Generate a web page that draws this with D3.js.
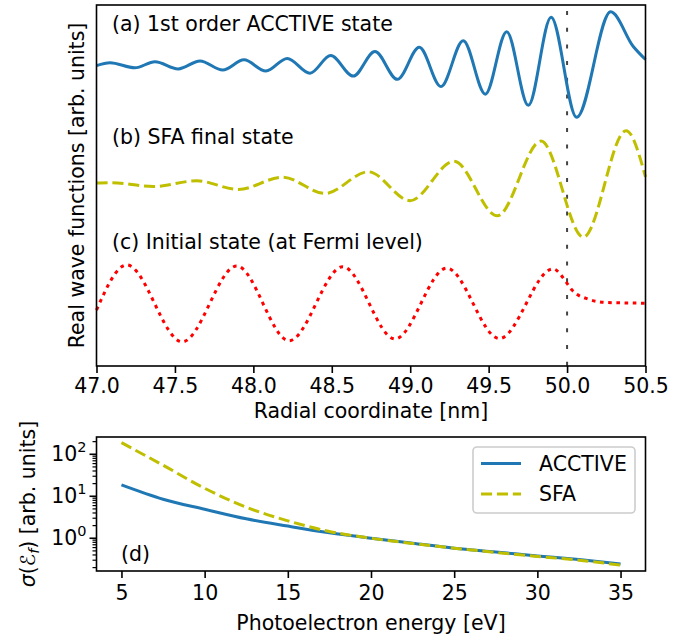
<!DOCTYPE html>
<html lang="en">
<head>
    <meta charset="utf-8">
    <script type="text/javascript" src="https://cdn.jsdelivr.net/npm/d3@7/dist/d3.min.js"></script>
    <style>
        body { margin: 0; background: #fff; }
        text { font-family: "DejaVu Sans", sans-serif; fill: #000; }
    </style>
</head>
<body>
<script type="text/javascript">

    // wave functions: [radial coordinate nm, value arb. units]
    let acctive = [
        [47.000, 8.32], [47.086, 8.40], [47.245, 8.26], [47.373, 8.43], [47.521, 8.23],
        [47.660, 8.45], [47.805, 8.20], [47.940, 8.48], [48.080, 8.17], [48.216, 8.52],
        [48.361, 8.11], [48.493, 8.60], [48.637, 8.03], [48.775, 8.71], [48.918, 7.94],
        [49.058, 8.83], [49.196, 7.74], [49.338, 9.01], [49.479, 7.53], [49.615, 9.26],
        [49.753, 7.22], [49.898, 9.66], [50.061, 6.89], [50.278, 9.81], [50.422, 8.85],
        [50.500, 8.49]
    ];
    let sfaFinal = [
        [47.000, 5.07], [47.090, 5.08], [47.362, 4.97], [47.639, 5.13], [47.904, 4.89],
        [48.187, 5.23], [48.457, 4.78], [48.733, 5.38], [48.999, 4.58], [49.279, 5.67],
        [49.555, 4.16], [49.834, 6.23], [50.104, 3.57], [50.376, 6.52], [50.500, 5.24]
    ];
    let initial = [
        [47.000, 1.55], [47.193, 2.80], [47.547, 0.67], [47.894, 2.77], [48.228, 0.70],
        [48.570, 2.75], [48.903, 0.75], [49.233, 2.71], [49.568, 0.76], [49.910, 2.69],
        [50.000, 2.29], [50.030, 2.11], [50.136, 1.85], [50.253, 1.76], [50.500, 1.74]
    ];
    let surface = 50.0;
    let radialTicks = [47.0, 47.5, 48.0, 48.5, 49.0, 49.5, 50.0, 50.5];

    // cross sections
    let energies = [5, 7.5, 10, 12.5, 15, 17.5, 20, 22.5, 25, 27.5, 30, 32.5, 35];
    let sigmaAcctive = [18.6, 8.5, 4.9, 2.9, 1.95, 1.35, 1.0, 0.76, 0.58, 0.47, 0.38, 0.31, 0.245];
    let sigmaSfa = [189, 55, 15.5, 5.5, 2.6, 1.45, 1.0, 0.75, 0.58, 0.46, 0.37, 0.30, 0.23];
    let energyTicks = [5, 10, 15, 20, 25, 30, 35];
    let logTicks = [1, 10, 100];
    let logTickExp = ["0", "1", "2"];

    let w = 688;
    let h = 638;
    let fs = 20.5;

    let svg = d3.select("body")
        .append("svg")
        .attr("width", w)
        .attr("height", h);

    // ---------- top panel ----------
    let x1 = d3.scaleLinear().domain([47.0, 50.5]).range([96.5, 645.5]);
    let y1 = d3.scaleLinear().domain([0, 10]).range([366, 5]);

    let wave = d3.line()
        .x(d => x1(d[0]))
        .y(d => y1(d[1]))
        .curve(d3.curveMonotoneX);

    svg.append("line")
        .attr("x1", x1(surface)).attr("x2", x1(surface))
        .attr("y1", y1.range()[1]).attr("y2", y1.range()[0])
        .attr("stroke", "#444")
        .attr("stroke-width", 2)
        .attr("stroke-dasharray", "4,12.7")
        .attr("stroke-dashoffset", -6);

    svg.append("path").datum(acctive)
        .attr("d", wave)
        .attr("fill", "none")
        .attr("stroke", "#1f77b4")
        .attr("stroke-width", 3);

    svg.append("path").datum(sfaFinal)
        .attr("d", wave)
        .attr("fill", "none")
        .attr("stroke", "#bfbf00")
        .attr("stroke-width", 3)
        .attr("stroke-dasharray", "11.1,4.8");

    svg.append("path").datum(initial)
        .attr("d", wave)
        .attr("fill", "none")
        .attr("stroke", "#ff0000")
        .attr("stroke-width", 3)
        .attr("stroke-dasharray", "3.6,4.6");

    svg.append("text").attr("x", 112).attr("y", 30.5).attr("font-size", fs)
        .text("(a) 1st order ACCTIVE state");
    svg.append("text").attr("x", 112).attr("y", 143.5).attr("font-size", fs)
        .text("(b) SFA final state");
    svg.append("text").attr("x", 112).attr("y", 249).attr("font-size", fs)
        .text("(c) Initial state (at Fermi level)");

    let ax1 = svg.append("g")
        .attr("transform", "translate(0," + y1.range()[0] + ")")
        .call(d3.axisBottom(x1).tickValues(radialTicks).tickFormat(d3.format(".1f"))
            .tickSize(7).tickPadding(5).tickSizeOuter(0));
    ax1.select(".domain").remove();
    ax1.selectAll(".tick line").attr("stroke-width", 1.6);
    ax1.selectAll(".tick text").attr("font-size", fs).attr("font-family", "DejaVu Sans");

    svg.append("rect")
        .attr("x", x1.range()[0]).attr("y", y1.range()[1])
        .attr("width", x1.range()[1] - x1.range()[0])
        .attr("height", y1.range()[0] - y1.range()[1])
        .attr("fill", "none").attr("stroke", "#000").attr("stroke-width", 1.6);

    svg.append("text")
        .attr("x", (x1.range()[0] + x1.range()[1]) / 2).attr("y", 418)
        .attr("text-anchor", "middle").attr("font-size", fs)
        .text("Radial coordinate [nm]");

    svg.append("text")
        .attr("transform", "translate(84," + (y1.range()[0] + y1.range()[1]) / 2 + ") rotate(-90)")
        .attr("text-anchor", "middle").attr("font-size", fs)
        .text("Real wave functions [arb. units]");

    // ---------- bottom panel ----------
    let x2 = d3.scaleLinear().domain([3.5, 36.5]).range([96.5, 645.5]);
    let y2 = d3.scaleLog().domain([0.166, 258]).range([571, 437]);

    let sigmaLine = d3.line()
        .x(d => x2(d[0]))
        .y(d => y2(d[1]))
        .curve(d3.curveMonotoneX);

    svg.append("path").datum(energies.map((e, i) => [e, sigmaAcctive[i]]))
        .attr("d", sigmaLine)
        .attr("fill", "none")
        .attr("stroke", "#1f77b4")
        .attr("stroke-width", 3);

    svg.append("path").datum(energies.map((e, i) => [e, sigmaSfa[i]]))
        .attr("d", sigmaLine)
        .attr("fill", "none")
        .attr("stroke", "#bfbf00")
        .attr("stroke-width", 3)
        .attr("stroke-dasharray", "11.1,4.8");

    let ax2 = svg.append("g")
        .attr("transform", "translate(0," + y2.range()[0] + ")")
        .call(d3.axisBottom(x2).tickValues(energyTicks).tickFormat(d3.format("d"))
            .tickSize(7).tickPadding(7).tickSizeOuter(0));
    ax2.select(".domain").remove();
    ax2.selectAll(".tick line").attr("stroke-width", 1.6);
    ax2.selectAll(".tick text").attr("font-size", fs).attr("font-family", "DejaVu Sans");

    // minor log ticks
    let minor = [];
    [0.1, 1, 10, 100].forEach(p => d3.range(2, 10).forEach(m => {
        let v = p * m;
        if (v >= y2.domain()[0] && v <= y2.domain()[1]) minor.push(v);
    }));
    svg.append("g").selectAll("line").data(minor).enter().append("line")
        .attr("x1", x2.range()[0] - 4).attr("x2", x2.range()[0])
        .attr("y1", d => y2(d)).attr("y2", d => y2(d))
        .attr("stroke", "#000").attr("stroke-width", 1.2);

    let maj = svg.append("g").selectAll("g").data(logTicks).enter().append("g")
        .attr("transform", d => "translate(0," + y2(d) + ")");
    maj.append("line")
        .attr("x1", x2.range()[0] - 7).attr("x2", x2.range()[0])
        .attr("stroke", "#000").attr("stroke-width", 1.6);
    let lab = maj.append("text")
        .attr("x", x2.range()[0] - 10).attr("y", 7)
        .attr("text-anchor", "end").attr("font-size", fs);
    lab.append("tspan").text("10");
    lab.append("tspan").attr("dy", -9).attr("font-size", 14.5).text((d, i) => logTickExp[i]);

    svg.append("rect")
        .attr("x", x2.range()[0]).attr("y", y2.range()[1])
        .attr("width", x2.range()[1] - x2.range()[0])
        .attr("height", y2.range()[0] - y2.range()[1])
        .attr("fill", "none").attr("stroke", "#000").attr("stroke-width", 1.6);

    svg.append("text").attr("x", 121).attr("y", 561).attr("font-size", fs).text("(d)");

    svg.append("text")
        .attr("x", (x2.range()[0] + x2.range()[1]) / 2).attr("y", 630)
        .attr("text-anchor", "middle").attr("font-size", fs)
        .text("Photoelectron energy [eV]");

    let yl = svg.append("text")
        .attr("transform", "translate(35," + (y2.range()[0] + y2.range()[1]) / 2 + ") rotate(-90)")
        .attr("text-anchor", "middle").attr("font-size", fs);
    yl.append("tspan").attr("font-style", "italic").text("σ");
    yl.append("tspan").text("(");
    yl.append("tspan").attr("font-style", "italic").text("ℰ");
    yl.append("tspan").attr("font-style", "italic").attr("font-size", 14.5).attr("dy", 4).text("f");
    yl.append("tspan").attr("dy", -4).text(")");
    yl.append("tspan").text(" [arb. units]");

    // legend
    let leg = svg.append("g");
    leg.append("rect")
        .attr("x", 473).attr("y", 447).attr("width", 162).attr("height", 66).attr("rx", 4)
        .attr("fill", "#fff").attr("fill-opacity", 0.8)
        .attr("stroke", "#cccccc").attr("stroke-width", 1.6);
    let legItems = [
        {name: "ACCTIVE", color: "#1f77b4", dash: null},
        {name: "SFA", color: "#bfbf00", dash: "11.1,4.8"}
    ];
    legItems.forEach((d, i) => {
        let yy = 463.5 + i * 30.5;
        leg.append("line")
            .attr("x1", 481).attr("x2", 521).attr("y1", yy).attr("y2", yy)
            .attr("stroke", d.color).attr("stroke-width", 3)
            .attr("stroke-dasharray", d.dash);
        leg.append("text").attr("x", 539).attr("y", yy + 7).attr("font-size", fs).text(d.name);
    });

</script>
</body>
</html>
